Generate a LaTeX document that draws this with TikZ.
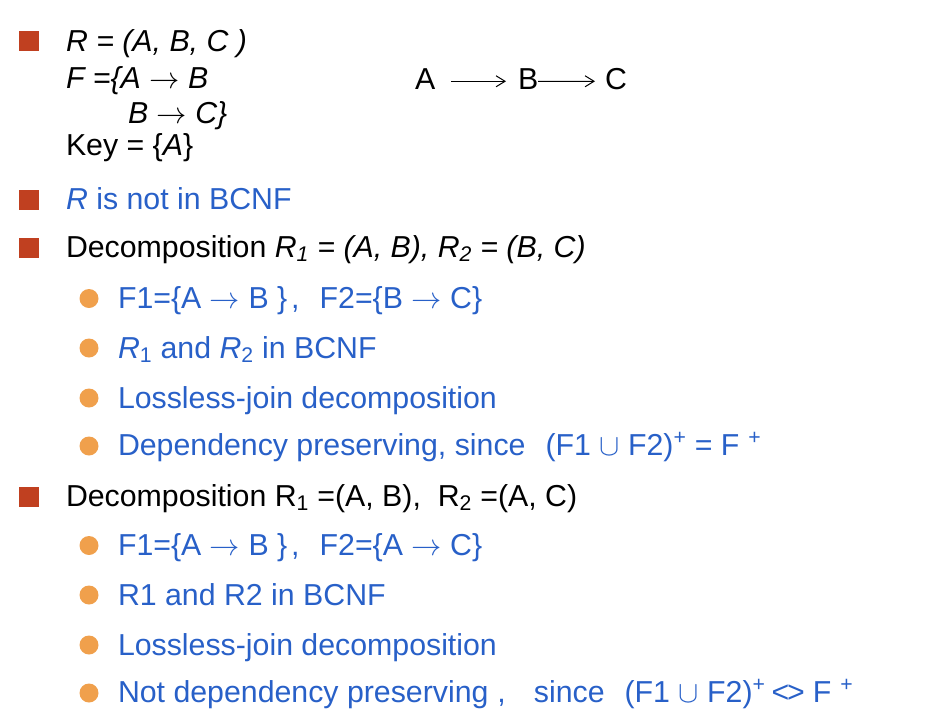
\RequirePackage{fix-cm}
\documentclass[tikz,border=0pt]{standalone}
\usepackage{fontspec}
\setmainfont{Liberation Sans}
\usetikzlibrary{arrows.meta}
\definecolor{txtblue}{RGB}{40,96,200}
\definecolor{sqred}{RGB}{192,64,32}
\definecolor{dotorange}{RGB}{240,160,76}
\begin{document}
\begin{tikzpicture}[x=1pt,y=-1pt,
  txt/.style={anchor=base west,inner sep=0pt,outer sep=0pt,font=\fontsize{30.3}{36}\selectfont},
  blk/.style={txt,text=black},
  blu/.style={txt,text=txtblue},
  sq/.style={fill=sqred,draw=none,minimum size=20pt,inner sep=0pt},
  dot/.style={circle,fill=dotorange,draw=none,minimum size=19pt,inner sep=0pt},
  fdarr/.style={draw=black,line width=1pt,-{Straight Barb[length=9pt,width=11pt,line width=1pt]}}]
\useasboundingbox (0,0) rectangle (942,724);
% level-1 square bullets
\node[sq] (s1) at (29,41) {};
\node[sq] (s5) at (29,199.5) {};
\node[sq] (s6) at (29,248) {};
\node[sq] (s11) at (29,497) {};
% level-2 round bullets
\node[dot] (d7) at (89,298.5) {};
\node[dot] (d8) at (89,348) {};
\node[dot] (d9) at (89,398) {};
\node[dot] (d10) at (89,446) {};
\node[dot] (d12) at (89,545.5) {};
\node[dot] (d13) at (89,595) {};
\node[dot] (d14) at (89,645) {};
\node[dot] (d15) at (89,693) {};
% first block
\node[blk] (l1) at (66,51) {\itshape R = (A, B, C~)};
\node[blk] (l2) at (66,88) {\itshape F =\{A $\rightarrow$ B};
\node[blk] (l3) at (128,123) {\itshape B $\rightarrow$ C\}};
\node[blk] (l4) at (66,155) {Key = \{{\itshape A}\}};
% FD chain
\node[blk] (nA) at (415,89) {A};
\node[blk] (nB) at (518,89) {B};
\node[blk] (nC) at (605,89) {C};
\draw[fdarr] ([xshift=16pt,yshift=-2.7pt]nA.east) -- ([xshift=-12pt,yshift=-2.7pt]nB.west);
\draw[fdarr] ([yshift=-2.7pt]nB.east) -- ([xshift=-10pt,yshift=-2.7pt]nC.west);
% second block
\node[blu] (l5) at (66,209) {{\itshape R} is not in BCNF};
\node[blk] (l6) at (66,257) {Decomposition {\itshape R\textsubscript{1} = (A, B), R\textsubscript{2} = (B, C)}};
\node[blu] (l7) at (118,308) {F1=\{A $\rightarrow$ B \}\hspace{4pt},\hspace{20pt}F2=\{B $\rightarrow$ C\}};
\node[blu] (l8) at (118,358) {{\itshape R}\textsubscript{1} and {\itshape R}\textsubscript{2} in BCNF};
\node[blu] (l9) at (118,408) {Lossless-join decomposition};
\node[blu] (l10) at (118,455) {Dependency preserving, since\hspace{20pt}(F1 $\cup$ F2)\textsuperscript{+} = F\hspace{9pt}\textsuperscript{+}};
% third block
\node[blk] (l11) at (66,506) {Decomposition R\textsubscript{1} =(A, B),~~R\textsubscript{2} =(A, C)};
\node[blu] (l12) at (118,555) {F1=\{A $\rightarrow$ B \}\hspace{4pt},\hspace{20pt}F2=\{A $\rightarrow$ C\}};
\node[blu] (l13) at (118,605) {R1 and R2 in BCNF};
\node[blu] (l14) at (118,655) {Lossless-join decomposition};
\node[blu] (l15) at (118,702) {Not dependency preserving\hspace{9pt},\hspace{28pt}since\hspace{20pt}(F1 $\cup$ F2)\textsuperscript{+}\hspace{6pt}<\kern-2pt>\hspace{8pt}F\hspace{9pt}\textsuperscript{+}};
\end{tikzpicture}
\end{document}
